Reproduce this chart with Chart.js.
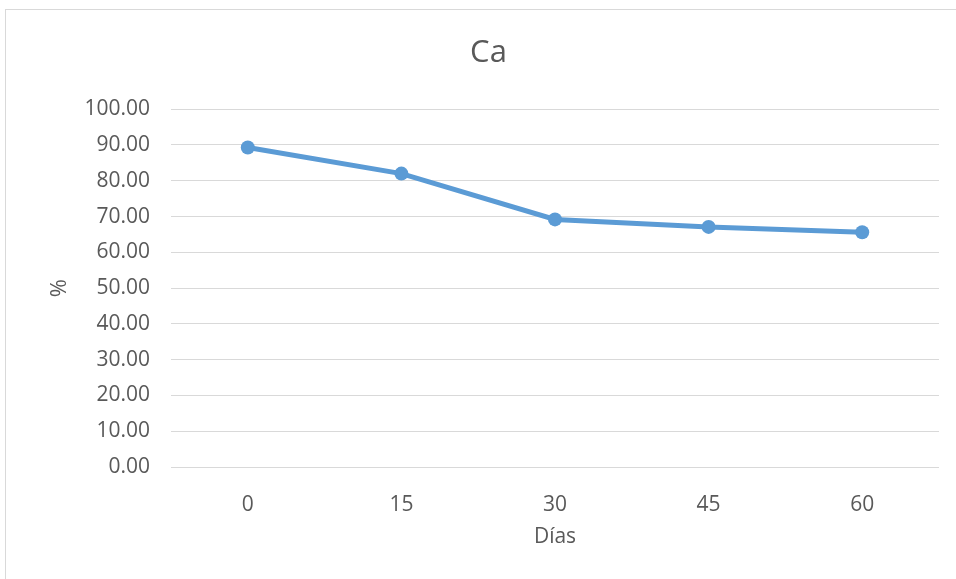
<!DOCTYPE html>
<html>
<head>
<meta charset="utf-8">
<script src="https://cdn.jsdelivr.net/npm/chart.js@4"></script>
<style>
  html, body { margin: 0; padding: 0; background: #fff; overflow: hidden; }
  #frame { position: absolute; left: 5px; top: 9px; width: 1000px; height: 620px; border: 1px solid #d9d9d9; }
  #wrap { position: absolute; left: 0; top: 0; width: 956px; height: 579px; }
</style>
</head>
<body>
<div id="frame"></div>
<div id="wrap"><canvas id="chart"></canvas></div>
<script>
const dias = ['0', '15', '30', '45', '60'];
const calcio = [89.3, 82.0, 69.2, 67.1, 65.6];
const tituloGrafico = 'Ca';
const tituloX = 'Días';
const tituloY = '%';

const gris = '#595959';
const azul = '#5b9bd5';

new Chart(document.getElementById('chart'), {
  type: 'line',
  data: {
    labels: dias,
    datasets: [{
      label: tituloGrafico,
      data: calcio,
      borderColor: azul,
      backgroundColor: azul,
      borderWidth: 5,
      pointRadius: 7,
      pointHoverRadius: 7,
      pointBorderWidth: 0,
      tension: 0
    }]
  },
  options: {
    responsive: true,
    maintainAspectRatio: false,
    animation: false,
    // left padding keeps the title centred on the whole frame
    layout: { padding: { left: 38, right: 17, top: 0, bottom: 0 } },
    plugins: {
      legend: { display: false },
      tooltip: { enabled: false },
      title: {
        display: true,
        text: tituloGrafico,
        color: gris,
        font: { family: 'Open Sans', size: 31, weight: 'normal' },
        padding: { top: 35, bottom: 37 }
      }
    },
    scales: {
      x: {
        offset: true,
        grid: { display: false },
        border: { display: false },
        ticks: { color: gris, font: { family: 'Open Sans', size: 21 }, padding: 17 },
        title: {
          display: true,
          text: tituloX,
          color: gris,
          font: { family: 'Open Sans', size: 21 },
          padding: { top: 0, bottom: 29 }
        },
        afterFit: (s) => { s.height = 112; }
      },
      y: {
        min: 0,
        max: 100,
        grid: { color: '#d9d9d9', lineWidth: 1, drawTicks: false },
        border: { display: false },
        ticks: {
          stepSize: 10,
          color: gris,
          font: { family: 'Open Sans', size: 21 },
          padding: 21,
          callback: (v) => v.toFixed(2)
        },
        title: {
          display: true,
          text: tituloY,
          color: gris,
          font: { family: 'Open Sans', size: 22 },
          padding: { top: 9, bottom: 0 }
        },
        afterFit: (s) => { s.width = 133; }
      }
    }
  }
});
</script>
</body>
</html>
